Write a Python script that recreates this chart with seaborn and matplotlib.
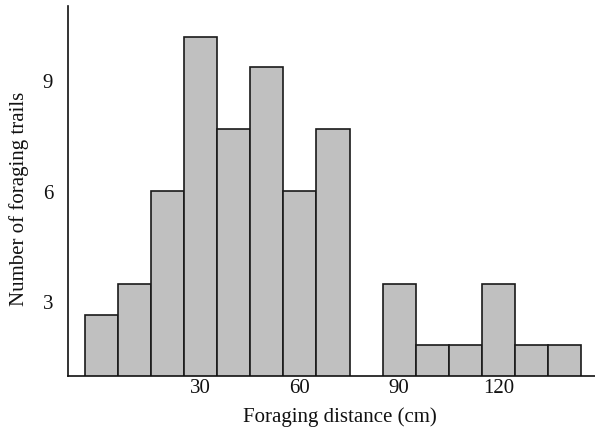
import numpy as np
import pandas as pd
import matplotlib
matplotlib.use("Agg")
import matplotlib.pyplot as plt
import seaborn as sns

# Data (bin centres in cm and bar heights read against the y-axis labels)
bin_centers = [0, 10, 20, 30, 40, 50, 60, 70, 80, 90, 100, 110, 120, 130, 140]
trail_counts = [2.67, 3.50, 6.02, 10.21, 7.70, 9.38, 6.02, 7.70, 0,
                3.50, 1.83, 1.83, 3.50, 1.83, 1.83]
bin_width = 10
bin_range = (-5, 145)
x_ticks = [30, 60, 90, 120]
y_ticks = [3, 6, 9]

df = pd.DataFrame({"distance": bin_centers, "count": trail_counts})

sns.set_theme(style="white")
plt.rcParams["font.family"] = ["Liberation Serif", "DejaVu Serif"]

fig = plt.figure(figsize=(5.95, 4.38), dpi=100)
ax = fig.add_axes([68.3 / 595, 62 / 438, (597.7 - 68.3) / 595, (432 - 62) / 438])

sns.histplot(data=df, x="distance", weights="count",
             binwidth=bin_width, binrange=bin_range,
             color="#c0c0c0", edgecolor="#1a1a1a", linewidth=1.2,
             alpha=1, ax=ax)

ax.set_xlim(-10, 150)
ax.set_ylim(1, 11.05)
ax.set_xticks(x_ticks)
ax.set_yticks(y_ticks)
ax.tick_params(axis="both", length=0, labelsize=15, colors="#111111")
ax.tick_params(axis="x", pad=2)
ax.tick_params(axis="y", pad=11)
ax.set_xlabel("Foraging distance (cm)", fontsize=15, color="#111111", labelpad=7)
ax.set_ylabel("Number of foraging trails", fontsize=15, color="#111111", labelpad=10)
ax.xaxis.label.set_x(0.513)
ax.yaxis.label.set_y(0.478)

for side in ["top", "right"]:
    ax.spines[side].set_visible(False)
for side in ["left", "bottom"]:
    ax.spines[side].set_color("#111111")
    ax.spines[side].set_linewidth(1.2)

fig.savefig("out.png", dpi=100)
